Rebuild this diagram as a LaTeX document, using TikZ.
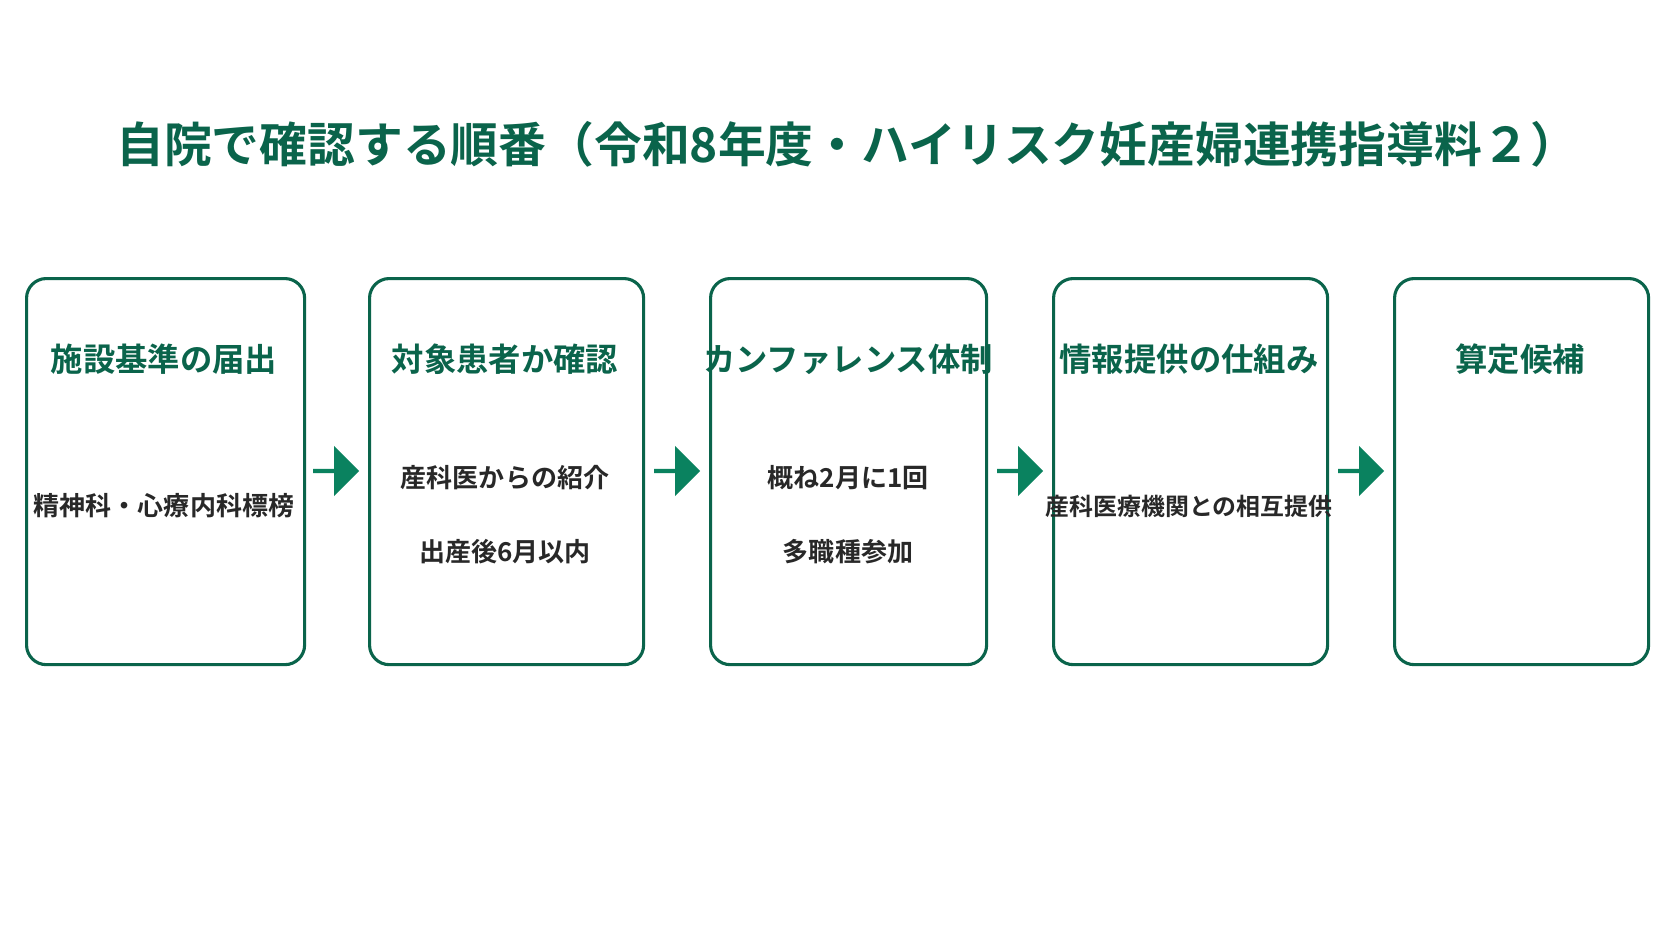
\documentclass[tikz,border=0pt]{standalone}
\usepackage{fontspec}
\setmainfont{Noto Sans CJK JP}[BoldFont={* Bold}]
\usetikzlibrary{shapes.arrows}
\definecolor{deepgreen}{RGB}{10,100,75}
\definecolor{arrowgreen}{RGB}{10,130,95}
\definecolor{bodytext}{RGB}{40,40,40}
\begin{document}
\begin{tikzpicture}[x=0.025cm, y=-0.025cm,
    stage/.style={draw=deepgreen, line width=2.2pt, rounded corners=14pt, minimum height=9.65cm, anchor=north west},
    head/.style={font=\fontsize{23}{26}\selectfont\bfseries, text=deepgreen},
    body/.style={font=\fontsize{18.5}{22}\selectfont\bfseries, text=bodytext},
    flow/.style={single arrow, fill=arrowgreen, minimum height=1.15cm, minimum width=1.25cm, single arrow head extend=0.08cm, inner sep=0pt}
]
    \fill[white] (0,0) rectangle (1672,941);

    % Title
    \node[font=\fontsize{34}{40}\selectfont\bfseries, text=deepgreen] (title) at (847,144)
        {自院で確認する順番（令和8年度・ハイリスク妊産婦連携指導料２）};

    % Steps
    \node[stage, minimum width=6.95cm] (s1) at (25,277) {};
    \node[stage, minimum width=6.85cm] (s2) at (368,277) {};
    \node[stage, minimum width=6.9cm] (s3) at (709,277) {};
    \node[stage, minimum width=6.85cm] (s4) at (1052,277) {};
    \node[stage, minimum width=6.35cm] (s5) at (1393,277) {};

    % Headings
    \node[head] (h1) at (164,359) {施設基準の届出};
    \node[head] (h2) at (505,359) {対象患者か確認};
    \node[head] (h3) at (848,359) {カンファレンス体制};
    \node[head] (h4) at (1189,359) {情報提供の仕組み};
    \node[head] (h5) at (1520,359) {算定候補};

    % Details
    \node[body] (d1) at (164,506) {精神科・心療内科標榜};
    \node[body] (d2a) at (505,478) {産科医からの紹介};
    \node[body] (d2b) at (505,552) {出産後6月以内};
    \node[body] (d3a) at (848,478) {概ね2月に1回};
    \node[body] (d3b) at (848,552) {多職種参加};
    \node[body, font=\fontsize{17}{20}\selectfont\bfseries] (d4) at (1189,506) {産科医療機関との相互提供};

    % Arrows
    \node[flow] (a1) at (335,471) {};
    \node[flow] (a2) at (676,471) {};
    \node[flow] (a3) at (1019,471) {};
    \node[flow] (a4) at (1360,471) {};
\end{tikzpicture}
\end{document}
